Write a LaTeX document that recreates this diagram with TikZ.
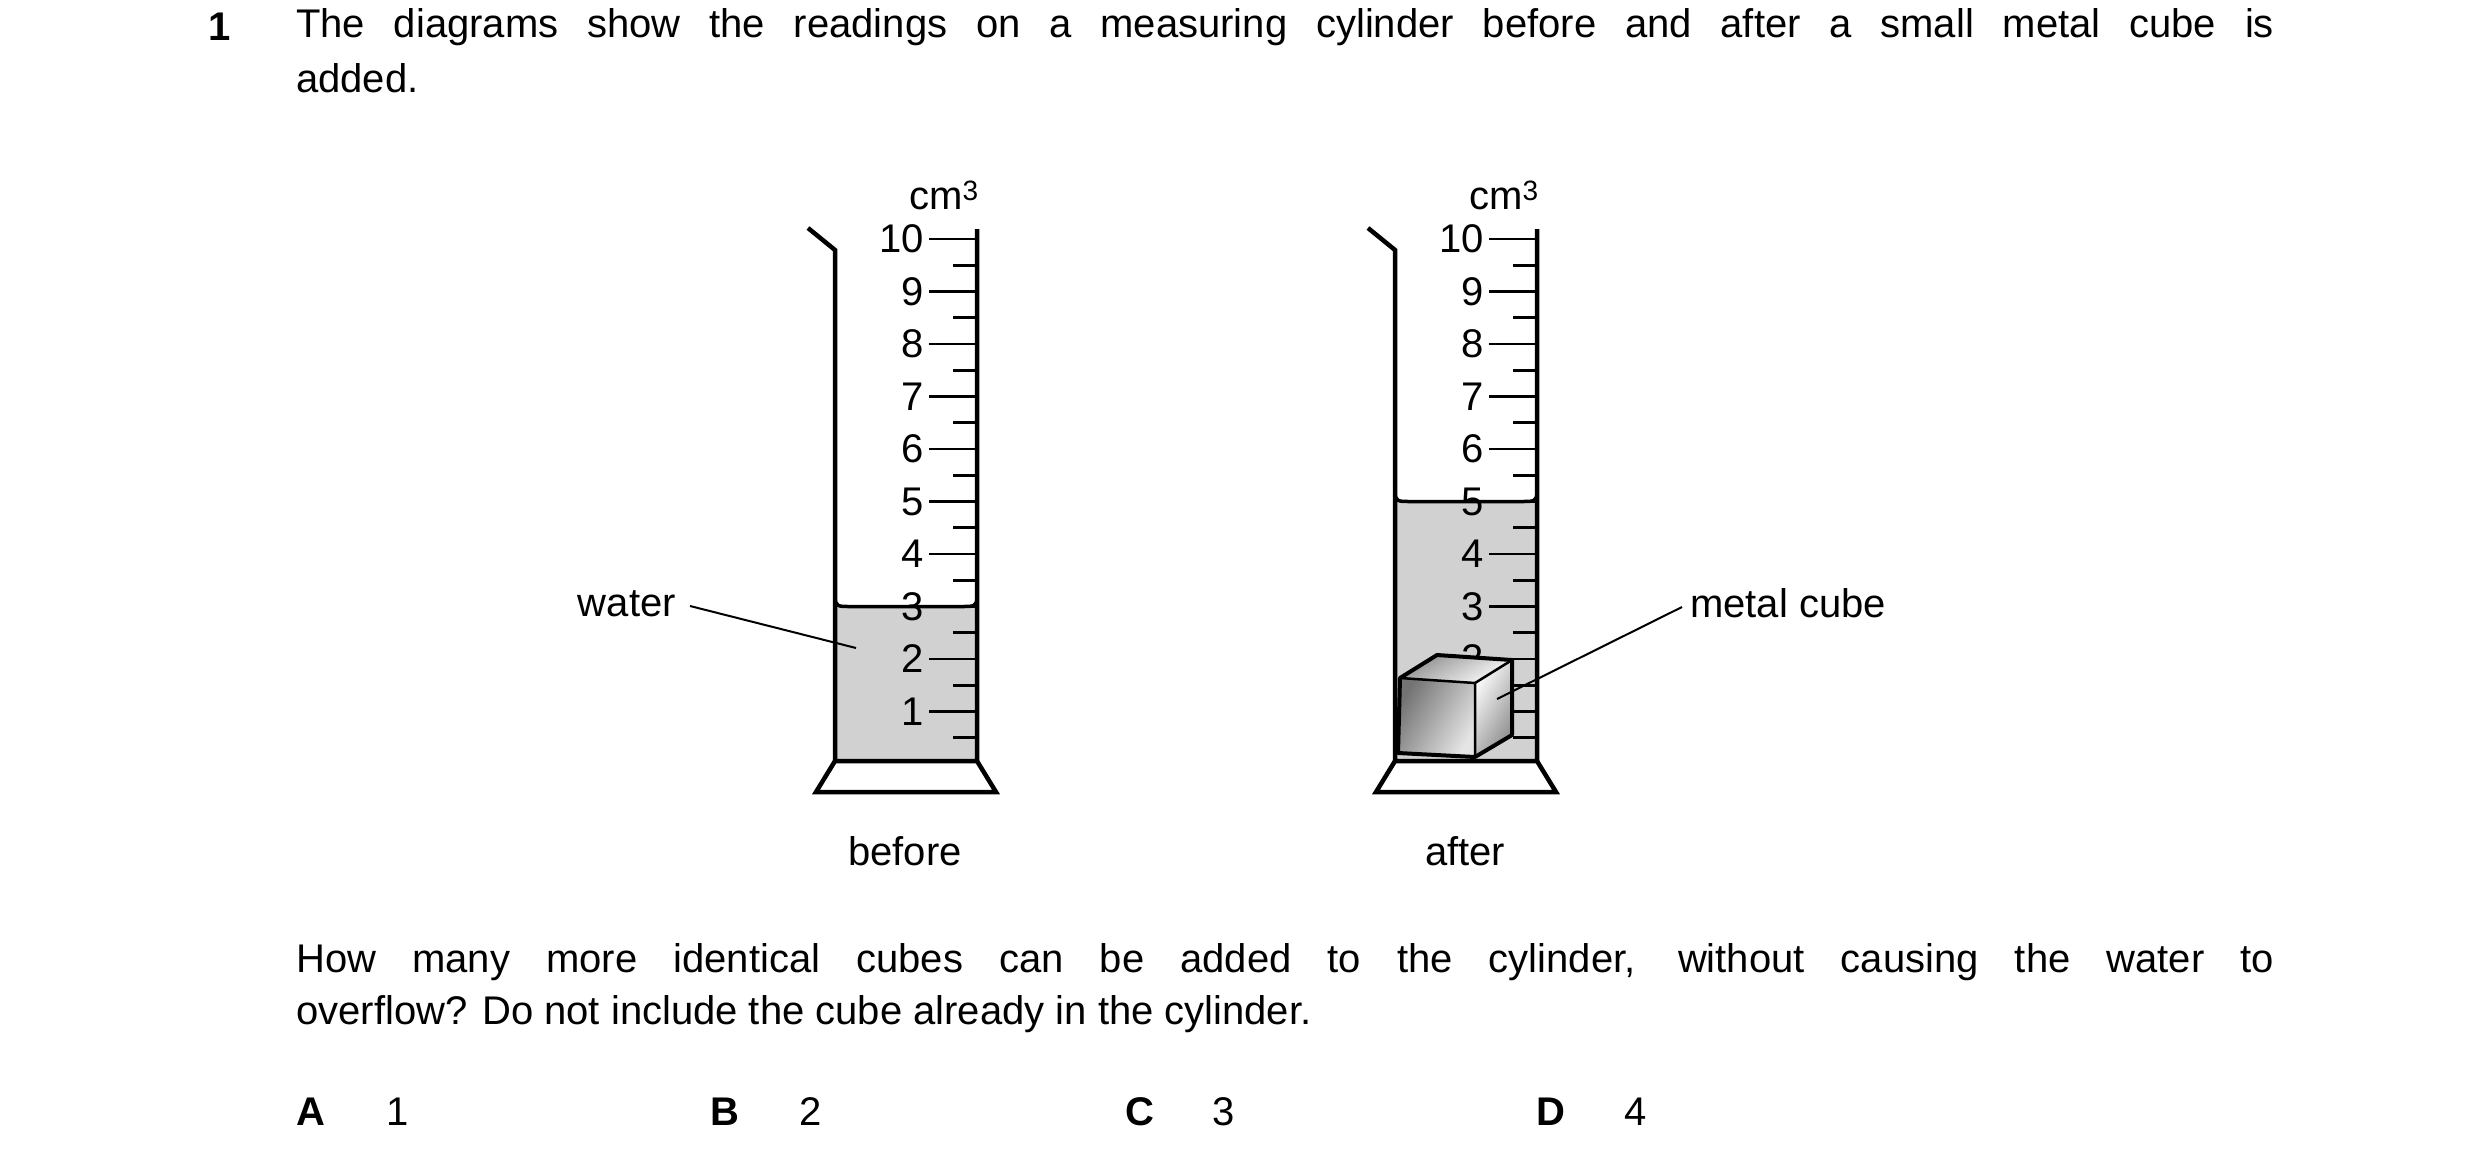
\documentclass[tikz,border=0pt]{standalone}
\usepackage{fontspec}
\setmainfont{Liberation Sans}
\begin{document}
\begin{tikzpicture}[x=1pt,y=-1pt,
  txt/.style={font=\fontsize{40}{48}\selectfont, inner sep=0pt},
  wall/.style={line width=4.5pt, line join=miter},
  tick/.style={line width=2.6pt},
  leader/.style={line width=2pt},
  water/.style={fill=black!18}]
\useasboundingbox (0,0) rectangle (2480,1168);
% header text
\node[txt,font=\fontsize{40}{48}\selectfont\bfseries] (num) at (220,27) {1};
\node[txt,anchor=west] (l1) at (296,27) {\makebox[1978pt][s]{The diagrams show the readings on a measuring cylinder before and after a small metal cube is}};
\node[txt,anchor=west] (l2) at (296,78) {added.};
\node[txt,anchor=west] (q1) at (296,962) {\makebox[1978pt][s]{How many more identical cubes can be added to the cylinder, without causing the water to}};
\node[txt,anchor=west] (q2) at (296,1014) {overflow? Do not include the cube already in the cylinder.};
\node[txt,anchor=west,font=\fontsize{40}{48}\selectfont\bfseries] (A) at (296,1112) {A};
\node[txt,anchor=west] (a) at (386,1112) {1};
\node[txt,anchor=west,font=\fontsize{40}{48}\selectfont\bfseries] (B) at (710,1112) {B};
\node[txt,anchor=west] (b) at (799,1112) {2};
\node[txt,anchor=west,font=\fontsize{40}{48}\selectfont\bfseries] (C) at (1125,1112) {C};
\node[txt,anchor=west] (c) at (1212,1112) {3};
\node[txt,anchor=west,font=\fontsize{40}{48}\selectfont\bfseries] (D) at (1536,1112) {D};
\node[txt,anchor=west] (d) at (1624,1112) {4};
% cylinders
\foreach \dx/\lev/\nm in {0/3/before, 560/5/after}{
  \begin{scope}[xshift=\dx pt]
    \pgfmathsetmacro{\wy}{764-52.5*\lev}
    \fill[water] (835,\wy-10) .. controls (835,\wy) and (838,\wy) .. (850,\wy) -- (962,\wy) .. controls (974,\wy) and (977,\wy) .. (977,\wy-10) -- (977,761) -- (835,761) -- cycle;
    \draw[line width=3.5pt] (835,\wy-10) .. controls (835,\wy) and (838,\wy) .. (850,\wy) -- (962,\wy) .. controls (974,\wy) and (977,\wy) .. (977,\wy-10);
    \foreach \v in {1,...,10}{
      \draw[tick] (929,764-52.5*\v) -- (977,764-52.5*\v);
      \node[txt,anchor=east] at (924,764-52.5*\v) {\v};
    }
    \foreach \v in {0.5,1.5,...,9.5}{
      \draw[tick] (953,764-52.5*\v) -- (977,764-52.5*\v);
    }
    \draw[wall] (808,228) -- (835,250) -- (835,761) -- (977,761) -- (977,229);
    \draw[wall] (835,761) -- (816,792) -- (996,792) -- (977,761);
    \node[txt] at (944,195) {cm\textsuperscript{3}};
    \node[txt] at (905,851) {\nm};
  \end{scope}
}
% water label
\node[txt,anchor=east] (wl) at (676,604) {water};
\coordinate (wend) at (856,648);
\draw[leader] (690,606) -- (wend);
% cube
\shade[left color=black!45, right color=white, shading angle=30] (1437,655) -- (1512,660) -- (1475,683) -- (1400,678) -- cycle;
\shade[top color=white, bottom color=black!45, shading angle=60] (1475,683) -- (1512,660) -- (1512,735) -- (1475,757) -- cycle;
\shade[left color=black!55, right color=black!10, shading angle=60] (1400,678) -- (1475,683) -- (1475,757) -- (1398,753) -- cycle;
\draw[line width=4pt, line join=round] (1400,678) -- (1437,655) -- (1512,660) -- (1512,735) -- (1475,757) -- (1398,753) -- cycle;
\draw[line width=2.5pt] (1400,678) -- (1475,683) -- (1512,660) (1475,683) -- (1475,757);
\node[txt,anchor=west] (ml) at (1690,603) {metal cube};
\coordinate (cend) at (1497,699);
\draw[leader] (1682,607) -- (cend);
\end{tikzpicture}
\end{document}
